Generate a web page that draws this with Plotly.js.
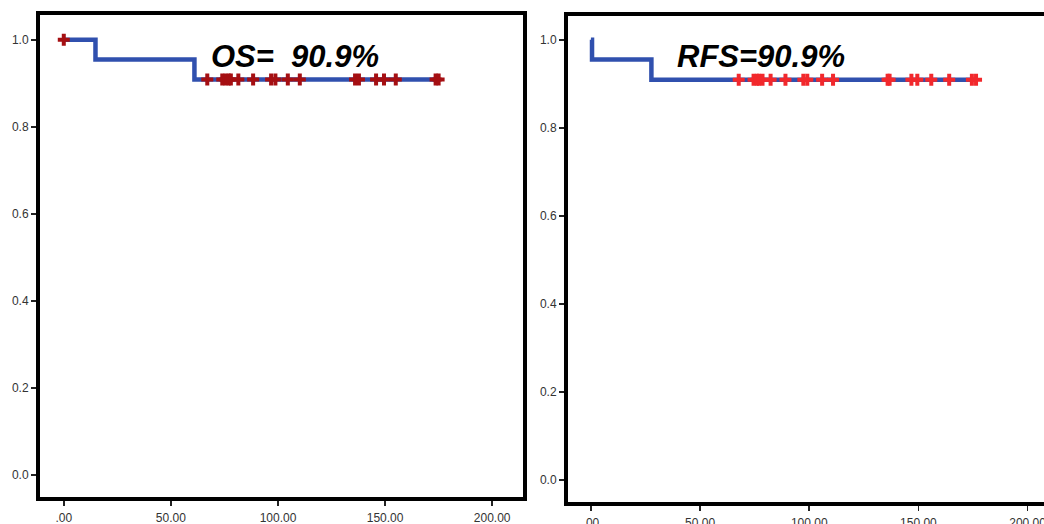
<!DOCTYPE html>
<html>
<head>
<meta charset="utf-8">
<script src="https://cdn.plot.ly/plotly-3.0.1.min.js"></script>
<style>
html, body { margin: 0; padding: 0; overflow: hidden; background: #fff; }
#chart { width: 1070px; height: 524px; }
</style>
</head>
<body>
<div id="chart"></div>
<script>
// ---- Data (months, survival probability) ----
const osStepTimes = [0, 14.8, 61, 175];
const osStepSurv = [1.0, 0.955, 0.909, 0.909];
const osCensorTimes = [0, 67, 74, 75.5, 77, 78, 81.5, 88.4, 96.8, 98.8, 104.6, 110.2, 136, 137.8, 145.8, 149.5, 155, 173.6, 175];

const rfsStepTimes = [0, 0.5, 27.7, 176.4];
const rfsStepSurv = [1.0, 0.955, 0.909, 0.909];
const rfsCensorTimes = [67.7, 74.5, 76, 77, 78.6, 82.3, 89.1, 97.3, 99.1, 105.9, 110.9, 135.9, 136.8, 146.8, 149.5, 155.9, 164.1, 174.5, 176.4];

const xTickVals = [0, 50, 100, 150, 200];
const xTickText = [".00", "50.00", "100.00", "150.00", "200.00"];
const yTickVals = [0, 0.2, 0.4, 0.6, 0.8, 1.0];
const yTickText = ["0.0", "0.2", "0.4", "0.6", "0.8", "1.0"];

const osLabel = "OS=\u00a0\u00a090.9%";
const rfsLabel = "RFS=90.9%";

// survival value at time t from step function
function survAt(times, surv, t) {
  let s = surv[0];
  for (let i = 0; i < times.length; i++) { if (times[i] <= t) s = surv[i]; }
  return s;
}

const W = 1070, H = 524;
const blue = "#3050ae";
const FONT = "Liberation Sans, Arial, sans-serif";

const traces = [
  { x: osStepTimes, y: osStepSurv, mode: "lines", line: { shape: "hv", color: blue, width: 4.5 }, xaxis: "x", yaxis: "y", hoverinfo: "skip" },
  { x: osCensorTimes, y: osCensorTimes.map(t => survAt(osStepTimes, osStepSurv, t)), mode: "markers",
    marker: { symbol: "cross", size: 10, color: "#a50f12" }, xaxis: "x", yaxis: "y" },
  { x: rfsStepTimes, y: rfsStepSurv, mode: "lines", line: { shape: "hv", color: blue, width: 4.5 }, xaxis: "x2", yaxis: "y2", hoverinfo: "skip" },
  { x: rfsCensorTimes, y: rfsCensorTimes.map(t => survAt(rfsStepTimes, rfsStepSurv, t)), mode: "markers",
    marker: { symbol: "cross", size: 10, color: "#f2282c" }, xaxis: "x2", yaxis: "y2" }
];

function axisBase() {
  return {
    showline: true, mirror: true, linecolor: "#000", linewidth: 4,
    showgrid: false, zeroline: false,
    ticks: "outside", ticklen: 5, tickwidth: 1.5, tickcolor: "#222",
    tickfont: { family: FONT, size: 12, color: "#333" },
    fixedrange: true
  };
}

const layout = {
  width: W, height: H,
  margin: { l: 0, r: 0, t: 0, b: 0 },
  paper_bgcolor: "#fff", plot_bgcolor: "#fff",
  showlegend: false,
  xaxis: Object.assign(axisBase(), {
    domain: [40 / W, 523 / W], range: [-11.1, 214.4],
    tickmode: "array", tickvals: xTickVals, ticktext: xTickText, anchor: "y", ticklabelstandoff: 2
  }),
  yaxis: Object.assign(axisBase(), {
    domain: [(H - 497) / H, (H - 15) / H], range: [-0.050, 1.057],
    tickmode: "array", tickvals: yTickVals, ticktext: yTickText, anchor: "x"
  }),
  xaxis2: Object.assign(axisBase(), {
    domain: [568 / W, 1059 / W], range: [-10.5, 214.4],
    tickmode: "array", tickvals: xTickVals, ticktext: xTickText, anchor: "y2", ticklabelstandoff: 2
  }),
  yaxis2: Object.assign(axisBase(), {
    domain: [(H - 502) / H, (H - 16) / H], range: [-0.0495, 1.054],
    tickmode: "array", tickvals: yTickVals, ticktext: yTickText, anchor: "x2"
  }),
  annotations: [
    { xref: "x", yref: "y", x: 68, y: 0.962, xanchor: "left", yanchor: "middle", showarrow: false,
      text: "<b><i>" + osLabel + "</i></b>", font: { family: FONT, size: 31, color: "#000" } },
    { xref: "x2", yref: "y2", x: 38.5, y: 0.962, xanchor: "left", yanchor: "middle", showarrow: false,
      text: "<b><i>" + rfsLabel + "</i></b>", font: { family: FONT, size: 31, color: "#000" } }
  ]
};

Plotly.newPlot("chart", traces, layout, { displayModeBar: false, staticPlot: true });
</script>
</body>
</html>
